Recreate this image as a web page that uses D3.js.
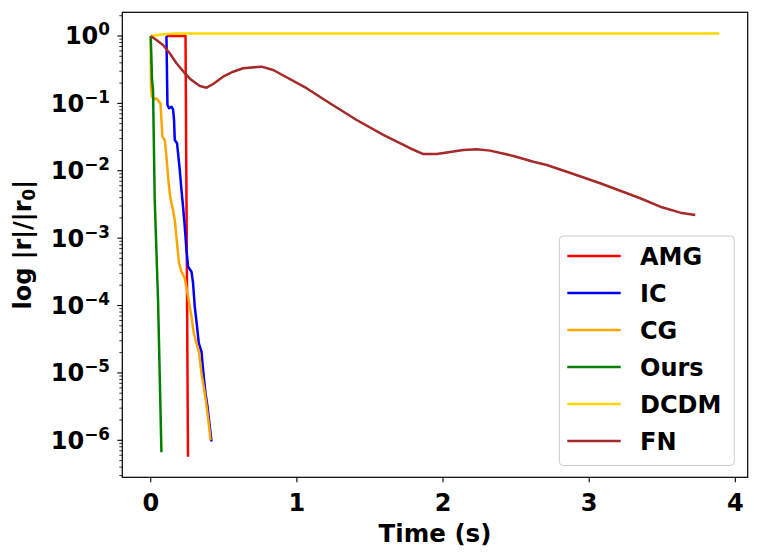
<!DOCTYPE html>
<html><head><meta charset="utf-8">
<script src="https://cdn.jsdelivr.net/npm/d3@7"></script>
<style>
html,body{margin:0;padding:0;background:#fff;}
text{font-family:"DejaVu Sans",sans-serif;font-weight:bold;}
</style></head>
<body><svg id="c" width="760" height="559"></svg>
<script>
// ---- data (time in s, relative residual) ----
const seriesNames = ["AMG","IC","CG","Ours","DCDM","FN"];
const seriesColors = ["#ff0000","#0000ff","#ffa500","#008000","#ffd700","#a52a2a"];

const amgT = [0.107, 0.238, 0.255];
const amgV = [1.0, 1.0, 5.7e-7];

const icT = [0.1075,0.1144,0.1253,0.1418,0.1527,0.1596,0.1644,0.1801,0.187,0.1986,0.2103,0.2212,0.2329,0.2445,0.2555,0.2788,0.2897,0.3014,0.3171,0.3288,0.3473,0.3582,0.3747,0.3884,0.4041,0.4158];
const icV = [1.0,0.0946,0.0845,0.0893,0.0817,0.0568,0.0286,0.0256,0.0182,0.0103,5.19e-3,2.93e-3,1.48e-3,6.68e-4,3.78e-4,3.18e-4,2.14e-4,9.6e-5,4.86e-5,2.76e-5,2.07e-5,1.11e-5,5.0e-6,3.16e-6,1.6e-6,9.6e-7];

const cgT = [0,0.002,0.0089,0.0274,0.039,0.0568,0.0664,0.0733,0.0801,0.0959,0.1075,0.1185,0.1301,0.1418,0.1527,0.1644,0.1801,0.1938,0.2103,0.2329,0.2555,0.2788,0.2945,0.313,0.3308,0.3473,0.3699,0.3856,0.3993,0.4089];
const cgV = [1.0,0.1675,0.1257,0.115,0.119,0.106,0.1004,0.0568,0.0321,0.0286,0.0162,8.17e-3,4.63e-3,3.29e-3,2.62e-3,1.86e-3,8.4e-4,4.24e-4,3.18e-4,2.54e-4,1.36e-4,6.84e-5,3.88e-5,2.76e-5,1.96e-5,9.9e-6,5.0e-6,2.83e-6,1.6e-6,1.01e-6];

const oursT = [0,0.0089,0.0158,0.0274,0.05,0.0733];
const oursV = [1.0,0.222,0.158,3.69e-3,1.21e-4,6.65e-7];

const dcdmT = [0,0.1,0.2,3.89];
const dcdmV = [1.0,1.07,1.09,1.09];

const fnT = [0,0.039,0.084,0.130,0.176,0.233,0.279,0.336,0.382,0.427,0.495,0.564,0.632,0.758,0.838,1.066,1.226,1.409,1.591,1.774,1.865,1.957,2.139,2.231,2.322,2.482,2.618,2.710,2.892,3.075,3.258,3.349,3.486,3.623,3.726];
const fnV = [1.0,0.873,0.735,0.554,0.394,0.280,0.222,0.181,0.171,0.194,0.249,0.295,0.332,0.351,0.313,0.168,0.1003,0.0567,0.0340,0.0216,0.0177,0.0177,0.0204,0.0208,0.0199,0.0166,0.0136,0.0122,8.97e-3,6.53e-3,4.64e-3,3.91e-3,2.93e-3,2.39e-3,2.21e-3];

const xTicks = [0,1,2,3,4];
const yExps = [0,-1,-2,-3,-4,-5,-6];

const allT = [amgT,icT,cgT,oursT,dcdmT,fnT];
const allV = [amgV,icV,cgV,oursV,dcdmV,fnV];

// ---- layout ----
const L=122.3, R=747.7, T=12.3, B=477.3;
const svg = d3.select("#c");
const x = d3.scaleLinear().domain([-0.1945, 4.0845]).range([L,R]);
const y = d3.scaleLog().domain([Math.pow(10,-6.549), Math.pow(10,0.3517)]).range([B,T]);

svg.append("clipPath").attr("id","clip").append("rect")
  .attr("x",L).attr("y",T).attr("width",R-L).attr("height",B-T);

const line = d3.line().x(d=>x(d[0])).y(d=>y(d[1]));
const g = svg.append("g").attr("clip-path","url(#clip)");
seriesNames.forEach((n,i)=>{
  const pts = allT[i].map((t,k)=>[t, allV[i][k]]);
  g.append("path").datum(pts).attr("d",line)
    .attr("fill","none").attr("stroke",seriesColors[i])
    .attr("stroke-width",2.5).attr("stroke-linejoin","round");
});

// ---- axes ----
const xa = svg.append("g");
xTicks.forEach(t=>{
  xa.append("line").attr("x1",x(t)).attr("x2",x(t)).attr("y1",B).attr("y2",B+5)
    .attr("stroke","#000").attr("stroke-width",1.1);
  xa.append("text").attr("x",x(t)).attr("y",510.5).attr("text-anchor","middle")
    .attr("font-size",24).text(t);
});
const ya = svg.append("g");
const [d0,d1] = y.domain();
for (let e=-7; e<=1; e++){
  for (let m=1; m<=9; m++){
    const v = m*Math.pow(10,e);
    if (v<d0 || v>d1) continue;
    const len = m===1?5:3;
    ya.append("line").attr("x1",L-len).attr("x2",L).attr("y1",y(v)).attr("y2",y(v))
      .attr("stroke","#000").attr("stroke-width",m===1?1.1:0.8);
  }
}
yExps.forEach(e=>{
  const yy = y(Math.pow(10,e));
  const t = ya.append("text").attr("x",110).attr("y",yy+8.5).attr("text-anchor","end").attr("font-size",24);
  t.append("tspan").text("10");
  t.append("tspan").attr("font-size",16.8).attr("dy",-9).text(e===0?"0":"\u2212"+(-e));
});

svg.append("rect").attr("x",L).attr("y",T).attr("width",R-L).attr("height",B-T)
  .attr("fill","none").attr("stroke","#000").attr("stroke-width",1.2);

svg.append("text").attr("x",(L+R)/2).attr("y",541.5).attr("text-anchor","middle")
  .attr("font-size",24.5).text("Time (s)");
const yl = svg.append("text").attr("transform",`translate(31,${(T+B)/2}) rotate(-90)`)
  .attr("text-anchor","middle").attr("font-size",24);
yl.append("tspan").text("log |r|/|r");
yl.append("tspan").attr("font-size",16.8).attr("dy",4).text("0");
yl.append("tspan").attr("dy",-4).text("|");

const lg = svg.append("g");
lg.append("rect").attr("x",559.3).attr("y",236).attr("width",175).attr("height",229.5)
  .attr("rx",4).attr("fill","#fff").attr("fill-opacity",0.8)
  .attr("stroke","#cccccc").attr("stroke-width",1);
const rowY = d3.scaleLinear().domain([0,5]).range([256,441]);
seriesNames.forEach((n,i)=>{
  const yy = rowY(i);
  lg.append("line").attr("x1",567.3).attr("x2",620.7).attr("y1",yy).attr("y2",yy)
    .attr("stroke",seriesColors[i]).attr("stroke-width",2.5);
  lg.append("text").attr("x",640).attr("y",yy+8.7).attr("font-size",24).text(n);
});
</script></body></html>
